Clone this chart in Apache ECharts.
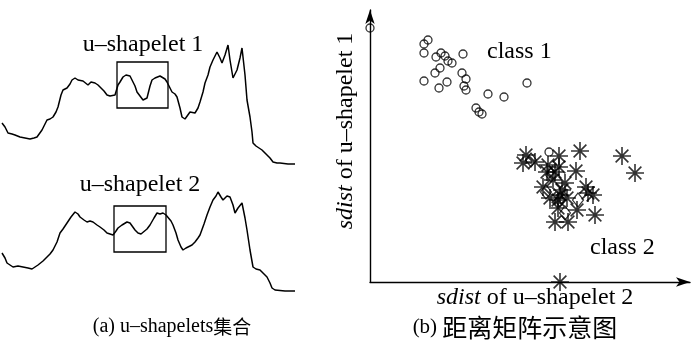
<!DOCTYPE html>
<html><head><meta charset="utf-8">
<script src="https://cdn.jsdelivr.net/npm/echarts@6/dist/echarts.min.js"></script>
<style>html,body{margin:0;padding:0;background:#fff}#c{width:700px;height:345px}</style>
</head><body><div id="c"></div>
<script>
// u-shapelet 1 source series [time, amplitude]
const series1 = [[2,47],[5,43],[8,37],[12,36],[15,35],[20,33],[25,32],[30,31],[34,32],[37,33],[42,40],[45,46],[47,50],[50,51],[53,53],[56,58],[58,63],[61,75],[63,80],[67,82],[70,86],[72,90],[75,92],[78,90],[80,88],[83,89],[85,87],[88,85],[91,88],[95,87],[98,85],[100,83],[104,79],[107,75],[110,74],[112,72],[115,75],[118,85],[120,88],[123,93],[126,95],[128,97],[130,94],[132,90],[135,84],[137,78],[140,74],[143,70],[145,71],[147,72],[150,84],[152,90],[155,92],[157,93],[160,94],[162,95],[165,91],[167,88],[170,82],[172,78],[175,76],[177,73],[180,62],[182,53],[185,51],[187,52],[190,58],[192,60],[195,57],[198,62],[200,68],[203,78],[205,87],[208,95],[210,103],[213,110],[217,118],[220,112],[222,107],[225,115],[228,125],[230,110],[233,92],[235,96],[237,100],[240,112],[242,122],[245,95],[247,70],[250,53],[252,38],[253,27],[256,24],[258,22],[262,20],[267,15],[270,12],[273,8],[277,7],[280,7],[288,6],[295,6]];
// u-shapelet 2 source series [time, amplitude]
const series2 = [[2,47],[5,42],[7,37],[10,35],[13,33],[18,34],[23,33],[28,32],[32,31],[35,33],[38,35],[43,39],[47,43],[50,46],[53,50],[57,58],[60,67],[63,71],[67,77],[71,83],[75,88],[78,86],[80,83],[84,80],[87,78],[90,79],[93,78],[97,75],[100,73],[104,70],[107,67],[110,66],[113,65],[116,69],[118,72],[122,75],[127,78],[130,77],[132,75],[135,70],[138,67],[141,66],[143,67],[147,71],[150,75],[154,82],[157,87],[160,86],[163,87],[166,85],[168,83],[171,79],[173,75],[176,67],[178,60],[181,53],[183,50],[186,52],[188,53],[192,55],[195,58],[198,62],[200,65],[204,76],[207,85],[210,93],[213,100],[216,104],[218,108],[221,103],[223,100],[227,104],[230,103],[233,95],[235,87],[238,92],[242,97],[245,82],[247,70],[250,50],[253,33],[256,31],[260,30],[263,27],[267,23],[270,17],[272,12],[275,10],[277,9],[285,9],[295,9]];
// shapelet windows [t0, t1, vLow, vHigh]
const box1 = [117, 168, 62, 108];
const box2 = [114, 166, 48, 94];
// sdist of u-shapelet 2 (x), sdist of u-shapelet 1 (y)
const class1 = [[0,254],[58,242],[54,238],[54,229],[71,229],[66,225],[75,226],[93,228],[78,221],[82,219],[70,214],[65,209],[92,209],[96,203],[54,201],[77,200],[69,194],[94,196],[96,192],[118,188],[134,185],[157,199],[106,174],[109,170],[112,168],[179,130]];
const class2 = [[156,127],[153,119],[165,120],[189,126],[210,131],[252,126],[265,109],[206,111],[177,110],[185,110],[189,115],[173,95],[183,102],[192,92],[216,95],[223,87],[218,89],[180,84],[188,82],[197,84],[207,72],[188,74],[225,67],[185,60],[198,60],[190,0],[178,117],[195,99],[190,87]];
const class2b = [[161,122],[181,107],[190,82],[195,69],[208,82],[176,90]];
const texts = {
  s1: 'u\u2013shapelet 1', s2: 'u\u2013shapelet 2',
  c1: 'class 1', c2: 'class 2',
  xName: '{i|sdist} of u\u2013shapelet 2', yName: '{i|sdist} of u\u2013shapelet 1',
  capA: '(a) u\u2013shapelets{c|集合}', capB: '(b) {c|距离矩阵示意图}'
};

const FONT = "'Liberation Serif','Noto Sans CJK SC',serif";
const CJK = "'Noto Sans CJK SC','Liberation Serif',serif";
const chart = echarts.init(document.getElementById('c'), null, {renderer:'canvas'});
const hidden = {show:false};
const starPath = 'path://M10,0L10,20M0,10L20,10M2.93,2.93L17.07,17.07M2.93,17.07L17.07,2.93';
function boxArea(b){ return {silent:true, itemStyle:{color:'rgba(0,0,0,0)', borderColor:'#000', borderWidth:1.3}, data:[[{coord:[b[0],b[3]]},{coord:[b[1],b[2]]}]]}; }
function txt(x,y,text,size,opt){
  opt = opt || {};
  return Object.assign({type:'text', x:x, y:y, style:Object.assign({text:text, fill:'#000', font:size+'px '+FONT, align:'center', verticalAlign:'middle',
    rich:{
      i:{fontStyle:'italic', fontSize:size, fontFamily:FONT, fill:'#000'},
      c:{fontSize:opt.cjk||size, fontFamily:CJK, fill:'#000'}
    }}, opt.style||{})}, opt.extra||{});
}
chart.setOption({
  animation:false,
  grid:[
    {left:0, top:40, width:297, height:130},
    {left:0, top:170, width:297, height:130},
    {left:370, top:10, width:320, height:272}
  ],
  xAxis:[
    {gridIndex:0, type:'value', min:0, max:297, show:false},
    {gridIndex:1, type:'value', min:0, max:297, show:false},
    {gridIndex:2, type:'value', min:0, max:320, splitLine:hidden, axisTick:hidden, axisLabel:hidden,
     axisLine:{show:true, symbol:['none','arrow'], symbolSize:[7,14], lineStyle:{color:'#000', width:1.4}}}
  ],
  yAxis:[
    {gridIndex:0, type:'value', min:0, max:130, show:false},
    {gridIndex:1, type:'value', min:0, max:130, show:false},
    {gridIndex:2, type:'value', min:0, max:272, splitLine:hidden, axisTick:hidden, axisLabel:hidden,
     axisLine:{show:true, symbol:['none','arrow'], symbolSize:[7,14], lineStyle:{color:'#000', width:1.4}}}
  ],
  series:[
    {type:'line', xAxisIndex:0, yAxisIndex:0, data:series1, showSymbol:false, lineStyle:{color:'#000', width:1.5}, markArea:boxArea(box1)},
    {type:'line', xAxisIndex:1, yAxisIndex:1, data:series2, showSymbol:false, lineStyle:{color:'#000', width:1.5}, markArea:boxArea(box2)},
    {type:'scatter', xAxisIndex:2, yAxisIndex:2, data:class2b, symbol:'diamond', symbolSize:[11,14], clip:false,
     itemStyle:{color:'rgba(0,0,0,0)', borderColor:'#000', borderWidth:1.2}},
    {type:'scatter', xAxisIndex:2, yAxisIndex:2, data:class1, symbol:'circle', symbolSize:8, clip:false,
     itemStyle:{color:'rgba(0,0,0,0)', borderColor:'#000', borderWidth:1.3}},
    {type:'scatter', xAxisIndex:2, yAxisIndex:2, data:class2, symbol:starPath, symbolSize:18, clip:false,
     itemStyle:{color:'rgba(0,0,0,0)', borderColor:'#000', borderWidth:1.6}}
  ],
  graphic:[
    txt(143,45,texts.s1,24),
    txt(140,185,texts.s2,24),
    txt(487,52,texts.c1,24,{style:{align:'left'}}),
    txt(590,248,texts.c2,24,{style:{align:'left'}}),
    txt(535,298,texts.xName,24),
    txt(346,131,texts.yName,24,{extra:{rotation:Math.PI/2}}),
    txt(172,327,texts.capA,20,{cjk:19}),
    txt(515,327,texts.capB,21,{cjk:25})
  ]
});
</script></body></html>
